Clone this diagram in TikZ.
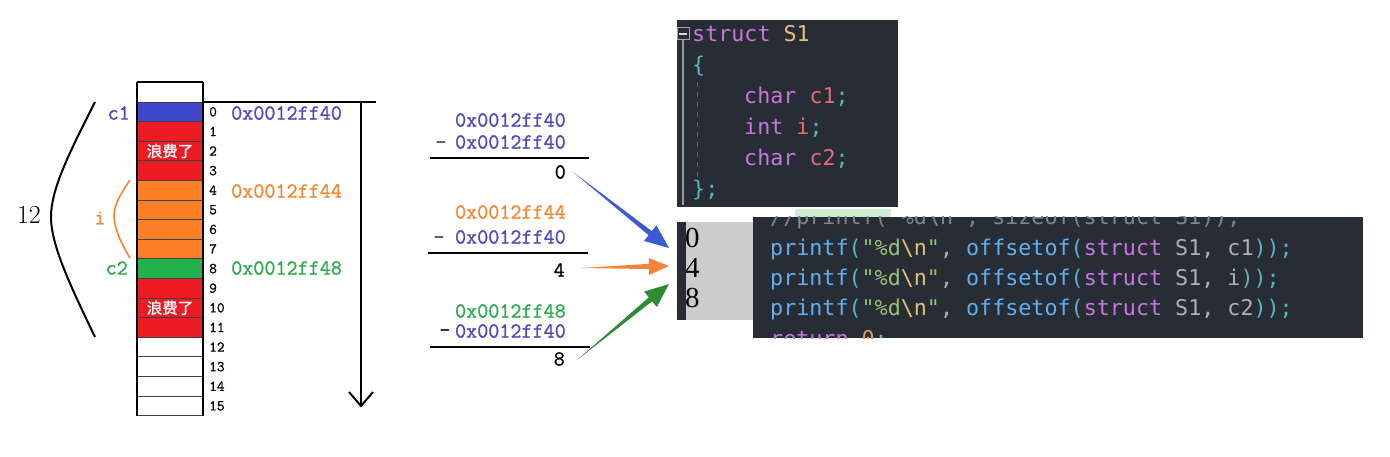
\documentclass[tikz,border=0pt]{standalone}
\usepackage{fontspec}
\usetikzlibrary{calc,arrows.meta}
\newfontfamily\codefont{DejaVu Sans Mono}[Ligatures=TeXOff]
\newfontfamily\cjkfont{Noto Sans CJK SC}[FakeBold=1.2]
\newfontfamily\timesfont{Liberation Serif}
\newfontfamily\addrfont{Latin Modern Mono}[FakeBold=1.0]
\definecolor{bgdark}{HTML}{282C34}
\definecolor{cellblue}{HTML}{3F48CC}
\definecolor{cellred}{HTML}{ED1C24}
\definecolor{cellorange}{HTML}{FF7F27}
\definecolor{cellgreen}{HTML}{22B14C}
\definecolor{tblue}{HTML}{4A4AC0}
\definecolor{torange}{HTML}{F7862F}
\definecolor{tgreen}{HTML}{2BAA4E}
\definecolor{ablue}{HTML}{3B5BD6}
\definecolor{aorange}{HTML}{F5843A}
\definecolor{agreen}{HTML}{2F8C33}
\definecolor{cfn}{HTML}{61AFEF}
\definecolor{cpar}{HTML}{56B6C2}
\definecolor{cstr}{HTML}{98C379}
\definecolor{cesc}{HTML}{E5C07B}
\definecolor{ckw}{HTML}{C678DD}
\definecolor{cid}{HTML}{ABB2BF}
\definecolor{cvar}{HTML}{E06C75}
\definecolor{ccom}{HTML}{7F848E}
\definecolor{cnum}{HTML}{D19A66}
\definecolor{outgrey}{HTML}{CCCCCC}
\definecolor{hlgreen}{HTML}{CFEBD0}
\newcommand\Kfn[1]{\textcolor{cfn}{#1}}
\newcommand\Kpar[1]{\textcolor{cpar}{#1}}
\newcommand\Kstr[1]{\textcolor{cstr}{#1}}
\newcommand\Kesc[1]{\textcolor{cesc}{#1}}
\newcommand\Kkw[1]{\textcolor{ckw}{#1}}
\newcommand\Kid[1]{\textcolor{cid}{#1}}
\newcommand\Kvar[1]{\textcolor{cvar}{#1}}
\newcommand\pline[1]{\Kfn{printf}\Kpar{(}\Kstr{"\%d}\Kesc{\textbackslash n}\Kstr{"}\Kid{,} \Kfn{offsetof}\Kpar{(}\Kkw{struct} \Kid{S1,} \Kid{#1}\Kpar{));}}
\newcommand\fatarrow[5]{%
  \coordinate (fa-s) at ($(#3)!#4!(#2)$);
  \fill[#1] (#2) -- ($(fa-s)!2.6pt!90:(#2)$) -- ($(fa-s)!#5!90:(#2)$) -- (#3)
    -- ($(fa-s)!#5!-90:(#2)$) -- ($(fa-s)!2.6pt!-90:(#2)$) -- cycle;}
\tikzset{
  lab/.style={font=\addrfont\fontsize{21.5}{22}\selectfont, inner sep=0pt},
  idx/.style={font=\addrfont\fontsize{15}{16}\selectfont, inner sep=0pt},
  waste/.style={font=\cjkfont\fontsize{15.5}{16}\selectfont, text=white, inner sep=0pt},
  code/.style={font=\codefont\fontsize{21.7}{22}\selectfont, inner sep=0pt, anchor=base west},
  outnum/.style={font=\timesfont\fontsize{29}{30}\selectfont, inner sep=0pt, anchor=west},
  rulel/.style={line width=2pt},
  cellsep/.style={line width=0.9pt, draw=black!75},
}
\begin{document}
\begin{tikzpicture}[x=1pt,y=-1pt]
\useasboundingbox (0,0) rectangle (1390,457);
\fill[white] (0,0) rectangle (1390,457);

% ---------- memory column ----------
\foreach \k/\c in {0/cellblue,1/cellred,2/cellred,3/cellred,4/cellorange,5/cellorange,6/cellorange,7/cellorange,8/cellgreen,9/cellred,10/cellred,11/cellred,12/white,13/white,14/white,15/white}{
  \fill[\c] (137,{102+19.6*\k}) rectangle (203,{102+19.6*(\k+1)});
  \draw[cellsep] (137,{102+19.6*\k}) -- (203,{102+19.6*\k});
  \node[idx, anchor=west] (n\k) at (209,{102+19.6*(\k+0.5)}) {\k};
}
\draw[cellsep] (137,{102+19.6*16}) -- (203,{102+19.6*16});
\draw[line width=1.1pt] (137,82) -- (203,82);
\draw[line width=1.1pt] (137,82) -- (137,{102+19.6*16}) (203,82) -- (203,{102+19.6*16});

\node[waste] (w1) at (170,151) {浪费了};
\node[waste] (w2) at (170,307.8) {浪费了};

% labels
\node[lab, text=tblue, anchor=east] (c1) at (130,113) {c1};
\node[lab, text=tgreen, anchor=east] (c2) at (128,268) {c2};
\node[lab, text=torange] (li) at (100,218) {i};
\node[font=\fontsize{26}{26}\selectfont, inner sep=0pt] (twelve) at (29,215) {12};

% braces
\draw[line width=2pt] (95,102) .. controls (68,155) and (51,190) .. (51,217)
  .. controls (51,245) and (70,285) .. (95,337);
\draw[torange, line width=1.6pt] (130,180) .. controls (120,195) and (114,205) .. (114,216)
  .. controls (114,228) and (122,245) .. (130,258);

% addresses
\node[lab, text=tblue, anchor=west] (a0) at (231,113) {0x0012ff40};
\node[lab, text=torange, anchor=west] (a4) at (231,191) {0x0012ff44};
\node[lab, text=tgreen, anchor=west] (a8) at (231,268) {0x0012ff48};

% axis
\draw[line width=2.2pt] (203,102) -- (376,102);
\coordinate (axtop) at (361,102);
\coordinate (axend) at (361,406);
\draw[line width=2pt] (axtop) -- (axend);
\draw[line width=2pt, line join=miter] (349,392) -- (axend) -- (373,392);

% ---------- subtraction blocks ----------
\node[lab, text=tblue, anchor=east] (s1a) at (566,120) {0x0012ff40};
\node[lab, text=tblue, anchor=east] (s1b) at (566,142) {0x0012ff40};
\node[lab, text=tblue!60!black, anchor=base] (s1m) at ($(s1b.base west)+(-14,0)$) {-};
\draw[rulel] (430,158) -- (589,158);
\node[lab, anchor=east] (r0) at (566,172) {0};

\node[lab, text=torange, anchor=east] (s2a) at (566,212) {0x0012ff44};
\node[lab, text=tblue, anchor=east] (s2b) at (566,237) {0x0012ff40};
\node[lab, text=tblue!60!black, anchor=base] (s2m) at ($(s2b.base west)+(-16,0)$) {-};
\draw[rulel] (428,253) -- (588,253);
\node[lab, anchor=east] (r4) at (565,270) {4};

\node[lab, text=tgreen, anchor=east] (s3a) at (566,311) {0x0012ff48};
\node[lab, text=tblue, anchor=east] (s3b) at (566,331) {0x0012ff40};
\node[lab, anchor=base] (s3m) at ($(s3b.base west)+(-10,-1)$) {-};
\draw[rulel] (430,347) -- (590,347);
\node[lab, anchor=east] (r8) at (565,359) {8};

% ---------- arrows ----------
\coordinate (sb) at ($(r0.east)+(7,0)$);
\coordinate (so) at ($(r4.east)+(16,-2)$);
\coordinate (sg) at ($(r8.east)+(12,1)$);
\coordinate (tb) at (669,248);
\coordinate (to) at (669,266);
\coordinate (tg) at (669,284);
\fatarrow{ablue}{sb}{tb}{24pt}{10pt}
\fatarrow{aorange}{so}{to}{20pt}{8.5pt}
\fatarrow{agreen}{sg}{tg}{24pt}{10pt}

% ---------- top code box ----------
\fill[bgdark] (677,20) rectangle (898,207);
\draw[black!40, line width=1.2pt] (683,40) -- (683,205);
\draw[black!35, fill=bgdark, line width=1pt] (677,28) rectangle (689,40);
\draw[white!85!black, line width=1.2pt] (679,34) -- (687,34);
\draw[black!60, line width=1pt, dash pattern=on 5pt off 5pt] (697,82) -- (697,182);
\node[code] (k1) at (692,42) {\Kkw{struct} \Kesc{S1}};
\node[code] (k2) at (692,73) {\Kpar{\{}};
\node[code] (k3) at (744,104) {\Kkw{char} \Kvar{c1}\Kpar{;}};
\node[code] (k4) at (744,135) {\Kkw{int} \Kvar{i}\Kpar{;}};
\node[code] (k5) at (744,166) {\Kkw{char} \Kvar{c2}\Kpar{;}};
\node[code] (k6) at (692,197) {\Kpar{\};}};

% ---------- output box ----------
\fill[hlgreen] (795,209) rectangle (891,217);
\fill[bgdark] (677,222) rectangle (686,320);
\fill[outgrey] (686,222) rectangle (753,320);
\node[outnum] (o0) at (685,238) {0};
\node[outnum] (o4) at (685,268) {4};
\node[outnum] (o8) at (685,298) {8};

% ---------- bottom code box ----------
\begin{scope}
\clip (753,217) rectangle (1363,338);
\fill[bgdark] (753,217) rectangle (1363,338);
\node[code] (p0) at (770,224.5) {\textcolor{ccom}{//printf("\%d\textbackslash n", sizeof(struct S1));}};
\node[code] (p1) at (770,255) {\pline{c1}};
\node[code] (p2) at (770,285.5) {\pline{i}};
\node[code] (p3) at (770,316) {\pline{c2}};
\node[code] (p4) at (770,346.5) {\Kkw{return} \textcolor{cnum}{0}\Kpar{;}};
\end{scope}
\end{tikzpicture}
\end{document}
